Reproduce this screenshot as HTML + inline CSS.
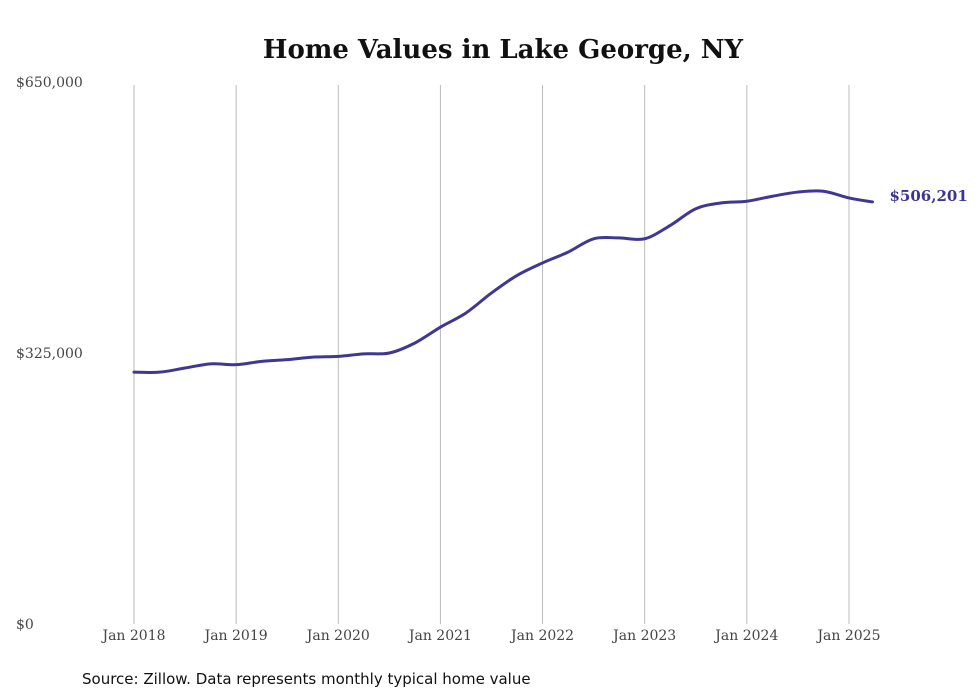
<!DOCTYPE html>
<html><head><meta charset="utf-8"><style>
body{margin:0;background:#fff;width:980px;height:699px;overflow:hidden}
svg{display:block}
</style></head><body>
<svg width="980" height="699">
<text x="503" y="58" text-anchor="middle" font-family="DejaVu Serif, serif" font-weight="bold" font-size="26" fill="#111">Home Values in Lake George, NY</text>
<g id="grid"></g>
<g id="yaxis"></g>
<g id="xaxis"></g>
<path id="line" fill="none" stroke="#3f3793" stroke-width="3" stroke-linejoin="round" stroke-linecap="round"/>
<text id="endlabel" font-family="DejaVu Serif, serif" font-weight="bold" font-size="15" fill="#3d3590"></text>
<text x="82" y="684" font-family="DejaVu Sans, sans-serif" font-size="15" fill="#111">Source: Zillow. Data represents monthly typical home value</text>
</svg>
<script>
const dates=[2018,2018.25,2018.5,2018.75,2019,2019.25,2019.5,2019.75,2020,2020.25,2020.5,2020.75,2021,2021.25,2021.5,2021.75,2022,2022.25,2022.5,2022.75,2023,2023.25,2023.5,2023.75,2024,2024.25,2024.5,2024.75,2025,2025.23];
const values=[302000,302000,307000,312000,311000,315000,317000,320000,321000,324000,325000,337000,356000,373000,397000,418000,433000,446000,462000,463000,462000,478000,498000,505000,507000,513000,518000,519000,511000,506201];
const yTicks=[0,325000,650000];
const yTickLabels=["$0","$325,000","$650,000"];
const xTicks=[2018,2019,2020,2021,2022,2023,2024,2025];
const xTickLabels=["Jan 2018","Jan 2019","Jan 2020","Jan 2021","Jan 2022","Jan 2023","Jan 2024","Jan 2025"];
const NS="http://www.w3.org/2000/svg";
const xs=d=>134+(d-2018)*102.14;
const ys=v=>624-v/325000*271;
const grid=document.getElementById('grid'),ya=document.getElementById('yaxis'),xa=document.getElementById('xaxis');
xTicks.forEach((t,i)=>{
 const l=document.createElementNS(NS,'line');
 l.setAttribute('x1',xs(t));l.setAttribute('x2',xs(t));l.setAttribute('y1',85);l.setAttribute('y2',624);
 l.setAttribute('stroke','#bbb');l.setAttribute('stroke-width','1');
 
 
 grid.appendChild(l);
 const tx=document.createElementNS(NS,'text');
 tx.setAttribute('x',xs(t));tx.setAttribute('y',640);tx.setAttribute('text-anchor','middle');
 tx.setAttribute('font-family','DejaVu Serif, serif');tx.setAttribute('font-size','14');tx.setAttribute('fill','#444');
 tx.textContent=xTickLabels[i];
 
 
 xa.appendChild(tx);
});
yTicks.forEach((t,i)=>{
 const tx=document.createElementNS(NS,'text');
 tx.setAttribute('x',16);tx.setAttribute('y',ys(t)+5);
 tx.setAttribute('font-family','DejaVu Serif, serif');tx.setAttribute('font-size','14');tx.setAttribute('fill','#444');
 tx.textContent=yTickLabels[i];
 
 
 ya.appendChild(tx);
});
const P=dates.map((d,i)=>[xs(d),ys(values[i])]);
let d='M'+P[0][0]+','+P[0][1];
for(let i=0;i<P.length-1;i++){
 const p0=P[i-1]||P[i],p1=P[i],p2=P[i+1],p3=P[i+2]||p2;
 const c1=[p1[0]+(p2[0]-p0[0])/6,p1[1]+(p2[1]-p0[1])/6];
 const c2=[p2[0]-(p3[0]-p1[0])/6,p2[1]-(p3[1]-p1[1])/6];
 d+=` C${c1[0]},${c1[1]} ${c2[0]},${c2[1]} ${p2[0]},${p2[1]}`;
}
document.getElementById('line').setAttribute('d',d);
const last=P[P.length-1];
const el=document.getElementById('endlabel');
el.setAttribute('x',last[0]+17);el.setAttribute('y',last[1]-1);
el.textContent='$'+values[values.length-1].toLocaleString('en-US');
</script>
</body></html>
